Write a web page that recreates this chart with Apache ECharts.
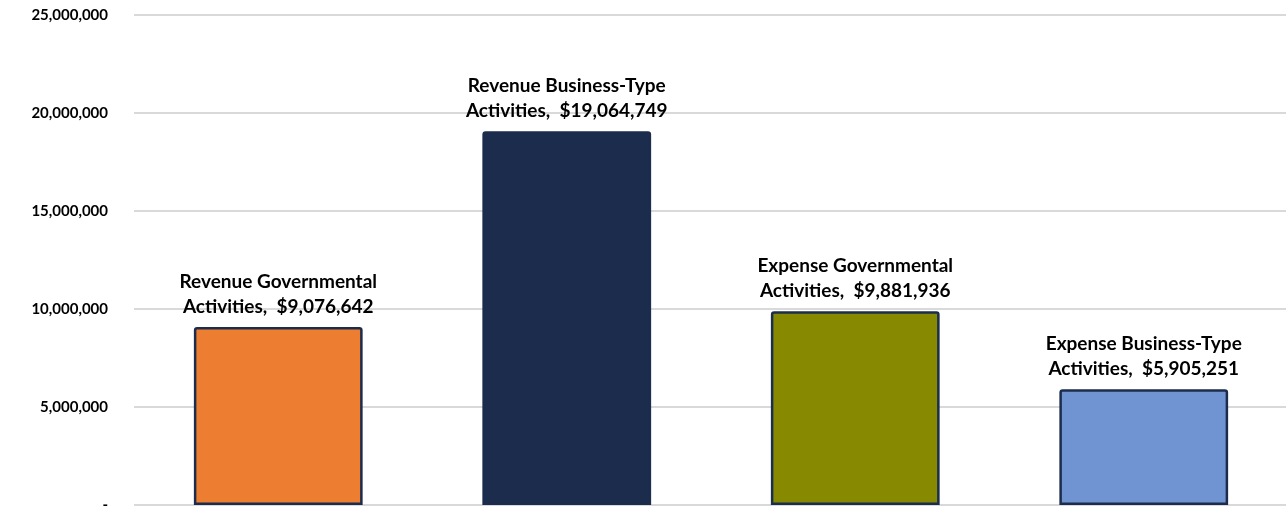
<!DOCTYPE html>
<html>
<head>
<meta charset="utf-8">
<script src="https://cdn.jsdelivr.net/npm/echarts@6/dist/echarts.min.js"></script>
<style>
  html, body { margin: 0; padding: 0; background: #fff; }
  #chart { width: 1286px; height: 506px; }
</style>
</head>
<body>
<div id="chart"></div>
<script>
// Revenue and expense totals by activity type
const categories = [
  ['Revenue Governmental', 'Activities,'],
  ['Revenue Business-Type', 'Activities,'],
  ['Expense Governmental', 'Activities,'],
  ['Expense Business-Type', 'Activities,']
];
const values = [9076642, 19064749, 9881936, 5905251];
const barColors = ['#ED7D31', '#1B2C4C', '#878900', '#7094D2'];
const yTicks = { min: 0, max: 25000000, interval: 5000000 };

const fmt = n => n.toLocaleString('en-US');
const fontFamily = 'Lato, "Open Sans", sans-serif';

const chart = echarts.init(document.getElementById('chart'), null, { renderer: 'canvas' });
chart.setOption({
  animation: false,
  grid: { left: 134, right: -2, top: 15, bottom: 1, containLabel: false, outerBoundsMode: 'none' },
  xAxis: {
    type: 'category',
    data: categories.map((c, i) => i),
    axisLine: { show: false },
    axisTick: { show: false },
    axisLabel: { show: false }
  },
  yAxis: {
    type: 'value',
    min: yTicks.min,
    max: yTicks.max,
    interval: yTicks.interval,
    axisLine: { show: false },
    axisTick: { show: false },
    splitLine: { lineStyle: { color: '#D9D9D9', width: 2 } },
    axisLabel: {
      margin: 26,
      color: '#000',
      fontFamily,
      fontWeight: 'bold',
      fontSize: 15,
      formatter: v => (v === 0 ? '-' : fmt(v))
    }
  },
  series: [{
    type: 'bar',
    barCategoryGap: '41.5%',
    data: values.map((v, i) => ({
      value: v,
      itemStyle: { color: barColors[i] }
    })),
    itemStyle: { borderColor: '#1B2C4C', borderWidth: 2.5, borderRadius: [2, 2, 0, 0] },
    label: {
      show: true,
      position: 'top',
      distance: 8,
      color: '#000',
      fontFamily,
      fontWeight: 'bold',
      fontSize: 19,
      lineHeight: 25,
      align: 'center',
      formatter: p => categories[p.dataIndex][0] + '\n' + categories[p.dataIndex][1] + '  $' + fmt(p.value)
    }
  }]
});
</script>
</body>
</html>
